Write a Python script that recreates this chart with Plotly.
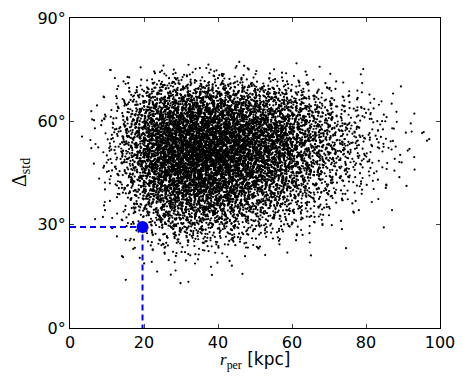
import plotly.graph_objects as go

# bin edges of the density (r_per in kpc, Delta in degrees)
x_left = [5, 10, 15, 20, 25, 30, 35, 40, 45, 50, 55, 60, 65, 70, 75, 80, 85, 90, 95]
y_bottom = [75, 70, 65, 60, 55, 50, 45, 40, 35, 30, 25, 20, 15, 10]
bin_w = 5
bin_h = 5

# estimated number of points in each 5 kpc x 5 deg cell (rows top -> bottom)
counts = [
    [0, 1, 0, 0, 0, 0, 0, 0, 1, 0, 0, 0, 0, 0, 1, 0, 0, 0, 0],
    [0, 2, 5, 12, 16, 18, 18, 16, 14, 10, 8, 6, 3, 2, 1, 0, 0, 0, 0],
    [1, 6, 25, 55, 75, 85, 85, 80, 70, 60, 50, 35, 20, 12, 6, 3, 2, 0, 0],
    [3, 15, 50, 110, 150, 170, 170, 160, 140, 120, 95, 70, 45, 28, 15, 8, 4, 1, 0],
    [4, 20, 70, 155, 200, 225, 225, 210, 190, 160, 130, 95, 60, 38, 22, 12, 6, 3, 1],
    [4, 22, 75, 165, 220, 245, 250, 235, 205, 170, 140, 100, 65, 40, 24, 12, 6, 3, 1],
    [3, 18, 65, 150, 205, 230, 230, 210, 185, 150, 120, 85, 55, 32, 18, 9, 4, 2, 0],
    [2, 12, 50, 115, 165, 190, 190, 175, 145, 115, 90, 62, 38, 22, 12, 5, 2, 1, 0],
    [1, 8, 32, 80, 115, 130, 130, 115, 95, 75, 55, 38, 22, 12, 6, 2, 1, 0, 0],
    [1, 4, 18, 45, 70, 80, 78, 68, 52, 38, 28, 18, 10, 5, 2, 1, 0, 0, 0],
    [0, 2, 8, 20, 32, 35, 32, 28, 20, 14, 9, 6, 3, 1, 0, 0, 0, 0, 0],
    [0, 1, 4, 6, 9, 10, 8, 7, 5, 3, 2, 1, 0, 0, 0, 0, 0, 0, 0],
    [0, 0, 1, 2, 2, 2, 2, 1, 1, 0, 0, 0, 0, 0, 0, 0, 0, 0, 0],
    [0, 0, 0, 0, 1, 1, 0, 0, 0, 0, 0, 0, 0, 0, 0, 0, 0, 0, 0],
]

# observed value
obs_r = 19.6
obs_delta = 29.3

x_ticks = [0, 20, 40, 60, 80, 100]
y_ticks = [0, 30, 60, 90]
y_ticklabels = ["0°", "30°", "60°", "90°"]


def halton(i, base):
    f, r = 1.0, 0.0
    while i > 0:
        f /= base
        r += f * (i % base)
        i //= base
    return r


# spread each cell's points with a tent profile (low-discrepancy, no seams)
xs, ys = [], []
k = 1
for row, y0 in zip(counts, y_bottom):
    for n, x0 in zip(row, x_left):
        xc = x0 + bin_w / 2
        yc = y0 + bin_h / 2
        for _ in range(n):
            xs.append(xc + bin_w * (halton(k, 2) + halton(k, 5) - 1))
            ys.append(yc + bin_h * (halton(k, 3) + halton(k, 7) - 1))
            k += 1

fig = go.Figure()
fig.add_trace(go.Scatter(x=xs, y=ys, mode="markers",
                         marker=dict(color="black", size=2.2, line=dict(width=0))))
fig.add_trace(go.Scatter(x=[0, obs_r, obs_r], y=[obs_delta, obs_delta, 0], mode="lines",
                         line=dict(color="#0000ff", width=2, dash="6px,4px")))
fig.add_trace(go.Scatter(x=[obs_r], y=[obs_delta], mode="markers",
                         marker=dict(color="#0000ff", size=12, line=dict(width=0))))

serif = "font-family:'Liberation Serif', 'DejaVu Serif', serif"
# the page body adds an 8px margin, so the figure is drawn 8px smaller and shifted
fig.update_layout(
    width=455, height=379,
    margin=dict(l=62, r=23, t=10, b=59),
    plot_bgcolor="white", paper_bgcolor="white",
    showlegend=False,
    font=dict(family="DejaVu Sans", size=16, color="black"),
    xaxis=dict(range=[0, 100], tickvals=x_ticks, ticks="inside", ticklen=4,
               showline=True, linecolor="black", linewidth=1, mirror="ticks",
               showgrid=False, zeroline=False, automargin=False),
    yaxis=dict(range=[0, 90], tickvals=y_ticks, ticktext=y_ticklabels, ticks="inside",
               ticklen=4, showline=True, linecolor="black", linewidth=1, mirror="ticks",
               showgrid=False, zeroline=False, automargin=False),
    annotations=[
        dict(text=f"<span style=\"{serif}\"><i>r</i><sub>per</sub></span> [kpc]",
             xref="paper", yref="paper", x=0.5, y=-0.105, showarrow=False,
             xanchor="center", yanchor="middle", font=dict(size=17)),
        dict(text=f"<span style=\"{serif}\">Δ<sub>std</sub></span>",
             xref="paper", yref="paper", x=-0.135, y=0.5, showarrow=False,
             xanchor="center", yanchor="middle", textangle=-90, font=dict(size=20)),
    ],
)

fig.write_html("out.html")
